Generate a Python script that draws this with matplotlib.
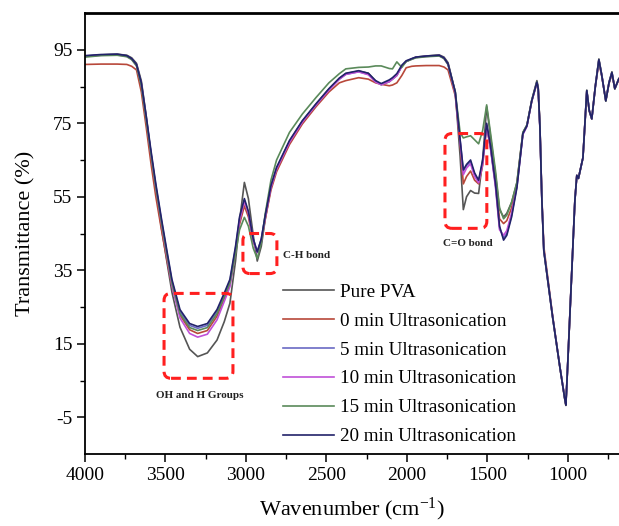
import matplotlib
matplotlib.use("Agg")
import matplotlib.pyplot as plt
from matplotlib.patches import FancyBboxPatch
from matplotlib.transforms import IdentityTransform
from matplotlib.ticker import FixedLocator

plt.rcParams['font.family'] = ['Liberation Serif', 'DejaVu Serif']
plt.rcParams['mathtext.fontset'] = 'custom'
plt.rcParams['mathtext.rm'] = 'Liberation Serif'
plt.rcParams['mathtext.it'] = 'Liberation Serif:italic'
plt.rcParams['axes.unicode_minus'] = False

# ---------------- data ----------------
wavenumber = [4000, 3900, 3800, 3740, 3710, 3680, 3650, 3620, 3590, 3560,
              3525, 3490, 3460, 3410, 3350, 3300, 3240, 3180, 3135, 3100,
              3065, 3040, 3010, 2985, 2955, 2930, 2905, 2880, 2845, 2810,
              2730, 2650, 2565, 2485, 2420, 2380, 2300, 2240, 2195, 2160,
              2110, 2090, 2063, 2032, 2005, 1970, 1945, 1880, 1800, 1770,
              1745, 1700, 1670, 1650, 1630, 1605, 1580, 1555, 1530, 1505,
              1480, 1450, 1425, 1400, 1380, 1350, 1317, 1280, 1255, 1225,
              1193, 1185, 1174, 1162, 1150, 1095, 1050, 1020, 1013, 1005,
              957, 945, 935, 920, 907, 883, 868, 852, 830, 808,
              790, 765, 745, 727, 709, 684]

pure_pva = [93.2, 93.6, 93.8, 93.5, 92.8, 91.3, 86.5, 77.0, 66.5, 57.0,
            46.5, 37.0, 29.0, 19.5, 13.5, 11.5, 12.5, 16.0, 21.0, 26.0,
            37.5, 48.5, 58.9, 54.5, 44.5, 37.5, 41.5, 49.0, 57.5, 62.5,
            70.0, 75.5, 80.2, 84.3, 87.2, 88.5, 89.2, 88.6, 86.5, 85.5,
            86.3, 87.0, 88.0, 90.5, 91.8, 92.5, 93.0, 93.3, 93.6, 93.0,
            91.5, 83.5, 66.0, 51.5, 55.0, 56.7, 56.0, 55.9, 65.0, 79.5,
            71.0, 61.0, 51.5, 49.5, 50.5, 53.5, 58.8, 72.5, 74.5, 81.3,
            86.6, 84.8, 74.0, 54.0, 40.2, 22.0, 8.5, 0.0, -1.8, 6.0,
            54.0, 60.8, 60.0, 63.0, 65.6, 84.0, 78.5, 76.2, 85.2, 92.5,
            88.2, 81.0, 86.2, 89.0, 84.3, 87.2]

min0 = [91.0, 91.1, 91.1, 91.0, 90.5, 89.5, 83.5, 74.0, 64.0, 55.0,
        46.0, 37.5, 30.8, 22.8, 18.8, 17.8, 18.6, 22.5, 27.3, 31.0,
        40.0, 47.5, 52.5, 49.5, 42.8, 40.0, 43.0, 49.0, 56.8, 61.8,
        69.2, 74.8, 79.5, 83.5, 86.0, 86.6, 87.4, 87.0, 86.0, 85.6,
        85.2, 85.4, 86.0, 88.0, 90.1, 90.5, 90.6, 90.7, 90.7, 90.3,
        89.5, 82.5, 69.5, 58.5, 60.5, 62.0, 59.5, 58.5, 63.5, 74.0,
        68.0, 58.5, 49.0, 47.7, 48.5, 52.0, 58.5, 72.2, 74.3, 81.0,
        86.0, 84.5, 73.8, 54.5, 41.5, 22.5, 8.6, 0.1, -1.6, 6.0,
        54.0, 60.8, 60.0, 63.0, 65.6, 83.5, 78.3, 76.2, 85.0, 91.5,
        87.8, 81.2, 85.8, 88.3, 84.5, 86.8]

min5 = [93.3, 93.6, 93.7, 93.3, 92.5, 90.8, 85.5, 76.5, 67.0, 58.0,
        48.5, 39.5, 32.0, 23.8, 20.0, 19.2, 20.0, 23.8, 28.3, 32.0,
        41.0, 49.0, 54.0, 50.8, 43.5, 40.0, 43.5, 50.0, 57.8, 62.8,
        70.0, 75.5, 80.0, 84.2, 87.0, 88.3, 89.0, 88.3, 86.3, 85.5,
        86.5, 87.2, 88.2, 90.6, 91.8, 92.5, 92.9, 93.2, 93.4, 92.7,
        91.0, 83.3, 70.5, 62.0, 63.5, 64.5, 61.0, 59.2, 64.5, 74.5,
        68.0, 58.0, 46.5, 43.8, 45.0, 50.0, 57.8, 72.0, 74.2, 81.0,
        86.0, 84.3, 73.5, 54.0, 40.5, 22.2, 8.6, 0.2, -1.5, 6.0,
        54.0, 60.8, 60.0, 63.0, 65.6, 83.8, 78.5, 76.2, 85.0, 92.2,
        88.0, 81.2, 86.0, 88.7, 84.5, 87.0]

min10 = [93.2, 93.5, 93.6, 93.2, 92.4, 90.7, 85.5, 76.3, 66.5, 57.5,
         47.8, 38.5, 30.8, 22.0, 17.8, 16.8, 17.6, 21.5, 26.5, 30.5,
         40.0, 48.5, 53.8, 50.5, 43.0, 39.8, 43.0, 49.5, 57.5, 62.5,
         69.8, 75.3, 80.0, 84.0, 87.0, 88.3, 89.0, 88.2, 86.2, 85.5,
         86.3, 87.0, 88.0, 90.5, 91.8, 92.5, 92.9, 93.2, 93.4, 92.7,
         91.0, 83.0, 70.0, 61.0, 62.8, 64.0, 60.5, 58.8, 64.0, 74.5,
         67.8, 57.5, 46.0, 44.5, 45.8, 50.5, 58.0, 72.0, 74.2, 81.0,
         86.0, 84.3, 73.5, 54.0, 40.6, 22.3, 8.7, 0.3, -1.4, 6.1,
         54.0, 60.8, 60.0, 63.0, 65.6, 83.8, 78.5, 76.2, 85.0, 92.2,
         88.0, 81.2, 86.0, 88.7, 84.5, 87.0]

min15 = [93.0, 93.4, 93.5, 93.1, 92.3, 90.6, 85.2, 76.0, 66.5, 57.5,
         48.0, 39.0, 31.5, 23.2, 19.4, 18.6, 19.4, 23.2, 27.8, 31.5,
         39.5, 46.0, 49.4, 47.0, 41.0, 38.2, 42.5, 50.5, 59.5, 65.0,
         72.5, 77.5, 82.0, 86.0, 88.5, 89.8, 90.2, 90.3, 90.6, 90.6,
         89.9, 89.8, 91.7, 90.2, 91.8, 92.4, 92.8, 93.1, 93.3, 92.6,
         91.0, 83.5, 72.5, 71.0, 71.3, 71.6, 70.5, 69.4, 73.0, 80.0,
         72.0, 62.0, 52.0, 49.0, 50.0, 53.5, 59.0, 72.5, 74.5, 81.2,
         86.3, 84.5, 73.8, 54.0, 40.5, 22.2, 8.6, 0.1, -1.6, 6.0,
         54.0, 60.8, 60.0, 63.0, 65.6, 83.9, 78.5, 76.2, 85.0, 92.3,
         88.0, 81.1, 86.0, 88.8, 84.4, 87.1]

min20 = [93.4, 93.7, 93.8, 93.4, 92.6, 91.0, 86.0, 77.0, 67.5, 58.5,
         49.0, 40.0, 32.5, 24.3, 20.5, 19.7, 20.5, 24.3, 28.8, 32.5,
         41.5, 49.5, 54.5, 51.0, 43.5, 40.0, 43.5, 50.0, 58.0, 63.0,
         70.3, 75.7, 80.3, 84.4, 87.3, 88.6, 89.3, 88.6, 86.6, 85.8,
         86.8, 87.4, 88.5, 90.8, 92.0, 92.6, 93.0, 93.3, 93.5, 92.8,
         91.2, 83.5, 70.5, 62.3, 63.8, 65.0, 61.5, 59.5, 65.0, 75.0,
         68.5, 58.5, 47.0, 43.2, 44.5, 49.5, 57.5, 72.2, 74.3, 81.1,
         86.2, 84.5, 73.8, 54.0, 40.4, 22.2, 8.6, 0.0, -1.7, 6.0,
         54.0, 60.8, 60.0, 63.0, 65.6, 83.9, 78.5, 76.2, 85.0, 92.3,
         88.0, 81.1, 86.0, 88.8, 84.4, 87.1]

labels = ["Pure PVA", "0 min Ultrasonication", "5 min Ultrasonication",
          "10 min Ultrasonication", "15 min Ultrasonication",
          "20 min Ultrasonication"]
series = [pure_pva, min0, min5, min10, min15, min20]
colors = ["#555555", "#b8483a", "#6a6ac4", "#c050d8", "#5a8a5a", "#22226a"]

x_ticks = [4000, 3500, 3000, 2500, 2000, 1500, 1000]
y_ticks = [95, 75, 55, 35, 15, -5]

# annotation boxes (wavenumber span, transmittance span)
boxes = [((3509, 3081), (5.6, 28.7)),
         ((3019, 2808), (34.1, 45.0)),
         ((1764, 1504), (46.4, 72.2))]

# ---------------- figure ----------------
W, H = 619, 526
fig = plt.figure(figsize=(W / 100, H / 100), dpi=100)
ax = fig.add_axes([85 / W, 72 / H, 534 / W, 441 / H])

handles = []
for ys, c, lab in zip(series, colors, labels):
    h, = ax.plot(wavenumber, ys, color=c, lw=1.2, label=lab)
    handles.append(h)

ax.set_xlim(4000, 683)
ax.set_ylim(-15, 105)
ax.set_xticks(x_ticks)
ax.xaxis.set_minor_locator(FixedLocator([3750, 3250, 2750, 2250, 1750, 1250, 750]))
ax.set_yticks(y_ticks)
ax.yaxis.set_minor_locator(FixedLocator([85, 65, 45, 25, 5]))
ax.tick_params(which='major', direction='out', length=6, width=1.1, labelsize=14, pad=3)
ax.tick_params(which='minor', direction='out', length=3.5, width=1.0)

ax.spines['right'].set_visible(False)
ax.spines['top'].set_linewidth(2.0)
ax.spines['left'].set_linewidth(1.3)
ax.spines['bottom'].set_linewidth(1.3)

ax.set_ylabel("Transmittance (%)", fontsize=16)
ax.yaxis.set_label_coords(-0.092, 0.5)
ax.set_xlabel("Wavenumber (cm$^{\\mathregular{-1}}$)", fontsize=16)
ax.xaxis.set_label_coords(0.5, -0.095)

leg = ax.legend(handles=handles, loc='upper left', bbox_to_anchor=(0.371, 0.387),
                frameon=False, fontsize=13.8, handlelength=2.65, handletextpad=0.3,
                labelspacing=0.6, borderpad=0, borderaxespad=0)

# dashed red rounded boxes
for (xa, xb), (ya, yb) in boxes:
    p0 = ax.transData.transform((xa, ya))
    p1 = ax.transData.transform((xb, yb))
    x0, y0 = min(p0[0], p1[0]), min(p0[1], p1[1])
    w, h = abs(p1[0] - p0[0]), abs(p1[1] - p0[1])
    patch = FancyBboxPatch((x0, y0), w, h, boxstyle="round,pad=0,rounding_size=7",
                           transform=IdentityTransform(), fill=False,
                           ec="#ff1f1f", lw=2.2, ls=(0, (3.2, 2.0)), clip_on=False)
    fig.add_artist(patch)

ax.text(3286, 1.0, "OH and H Groups", ha='center', va='center', fontsize=8,
        fontweight='bold', color='#222222')
ax.text(2770, 39.0, "C-H bond", ha='left', va='center', fontsize=8,
        fontweight='bold', color='#222222')
ax.text(1622, 42.3, "C=O bond", ha='center', va='center', fontsize=8,
        fontweight='bold', color='#222222')

fig.savefig("out.png", dpi=100)
